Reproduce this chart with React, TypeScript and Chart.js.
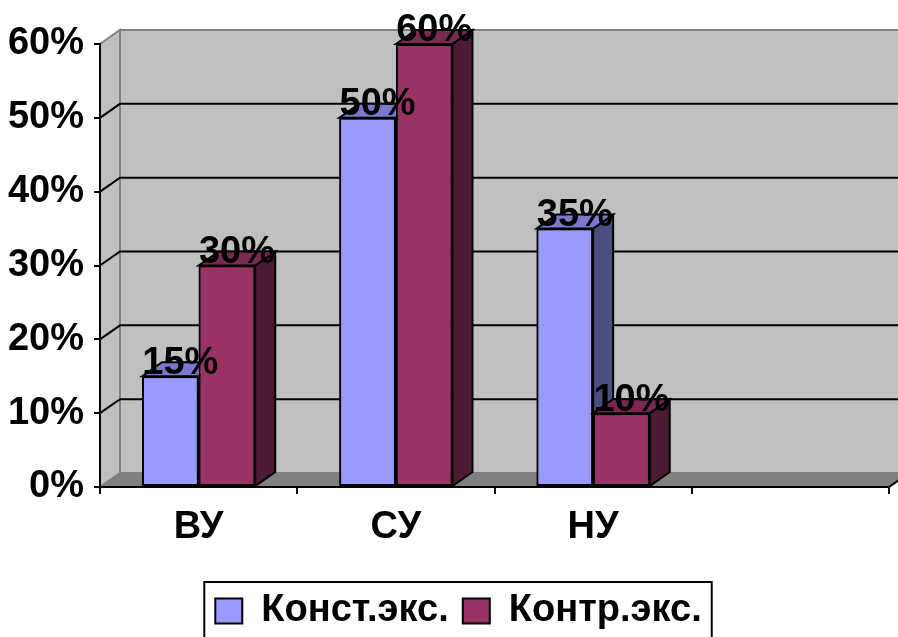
import React, { useEffect, useRef } from 'react';
import { Chart, registerables } from 'chart.js';

Chart.register(...registerables);

const categories = ['ВУ', 'СУ', 'НУ', ''];
const konstValues: (number | null)[] = [15, 50, 35, null];
const kontrValues: (number | null)[] = [30, 60, 10, null];
const seriesNames = ['Конст.экс.', 'Контр.экс.'];
const yMin = 0;
const yMax = 60;
const yStep = 10;

const FONT = "'Liberation Sans', Arial, sans-serif";
const FS = 38;
const DX = 20;
const DY = 14;

const frontColors = ['#9999FF', '#993366'];
const topColors = ['#7A7ACC', '#7A2952'];
const sideColors = ['#4D4D80', '#4D1A33'];

function poly(ctx: CanvasRenderingContext2D, pts: number[][], fill?: string, stroke?: string, lw = 1.5) {
  ctx.beginPath();
  ctx.moveTo(pts[0][0], pts[0][1]);
  for (let i = 1; i < pts.length; i++) ctx.lineTo(pts[i][0], pts[i][1]);
  ctx.closePath();
  if (fill) {
    ctx.fillStyle = fill;
    ctx.fill();
  }
  if (stroke) {
    ctx.strokeStyle = stroke;
    ctx.lineWidth = lw;
    ctx.stroke();
  }
}

const threeD = {
  id: 'threeD',
  afterLayout(chart: any) {
    if (chart.legend) chart.legend.left = 28;
  },
  beforeDraw(chart: any) {
    const { ctx, chartArea: ca, scales } = chart;
    const ys = scales.y;
    ctx.save();
    // back wall
    poly(ctx, [
      [ca.left + DX, ca.top - DY],
      [ca.right + DX, ca.top - DY],
      [ca.right + DX, ca.bottom - DY],
      [ca.left + DX, ca.bottom - DY],
    ], '#C0C0C0', '#808080', 2);
    // side wall
    poly(ctx, [
      [ca.left, ca.bottom],
      [ca.left + DX, ca.bottom - DY],
      [ca.left + DX, ca.top - DY],
      [ca.left, ca.top],
    ], '#C0C0C0', '#808080', 2);
    // floor
    poly(ctx, [
      [ca.left, ca.bottom],
      [ca.right, ca.bottom],
      [ca.right + DX, ca.bottom - DY],
      [ca.left + DX, ca.bottom - DY],
    ], '#808080', '#808080', 1.5);
    // grid lines
    ctx.strokeStyle = '#000';
    ctx.lineWidth = 2;
    for (let v = yMin + yStep; v < yMax; v += yStep) {
      const py = ys.getPixelForValue(v);
      ctx.beginPath();
      ctx.moveTo(ca.left, py);
      ctx.lineTo(ca.left + DX, py - DY);
      ctx.lineTo(ca.right + DX, py - DY);
      ctx.stroke();
    }
    // floor right edge
    ctx.beginPath();
    ctx.moveTo(ca.right, ca.bottom);
    ctx.lineTo(ca.right + DX, ca.bottom - DY);
    ctx.stroke();
    ctx.restore();
  },
  afterDatasetsDraw(chart: any) {
    const { ctx } = chart;
    const metas = chart.getSortedVisibleDatasetMetas();
    const n = chart.data.labels.length;
    const labels: { x: number; y: number; t: string }[] = [];
    ctx.save();
    for (let i = 0; i < n; i++) {
      metas.forEach((meta: any, d: number) => {
        const raw = chart.data.datasets[meta.index].data[i];
        if (raw === null || raw === undefined) return;
        const el = meta.data[i];
        const { x, y, base, width } = el.getProps(['x', 'y', 'base', 'width'], true);
        const L = x - width / 2;
        const R = x + width / 2;
        el.draw(ctx, chart.chartArea);
        poly(ctx, [[R, y], [R + DX, y - DY], [R + DX, base - DY], [R, base]], sideColors[d], '#000', 2);
        poly(ctx, [[L, y], [L + DX, y - DY], [R + DX, y - DY], [R, y]], topColors[d], '#000', 2);
        labels.push({ x: x + DX / 2, y: y - DY + 1, t: raw + '%' });
      });
    }
    ctx.fillStyle = '#000';
    ctx.font = `bold ${FS}px ${FONT}`;
    ctx.textAlign = 'center';
    ctx.textBaseline = 'middle';
    labels.forEach((l) => ctx.fillText(l.t, l.x, l.y));
    ctx.restore();
  },
  afterDraw(chart: any) {
    const lg = chart.legend;
    if (!lg || !lg.legendHitBoxes || !lg.legendHitBoxes.length) return;
    const hb = lg.legendHitBoxes;
    const first = hb[0];
    const last = hb[hb.length - 1];
    const { ctx } = chart;
    ctx.save();
    ctx.strokeStyle = '#000';
    ctx.lineWidth = 2;
    const left = first.left - 11;
    const right = last.left + last.width + 10;
    const top = 582;
    ctx.strokeRect(left, top, right - left, 100);
    ctx.restore();
  },
};

export default function App() {
  const ref = useRef<HTMLCanvasElement | null>(null);
  useEffect(() => {
    if (!ref.current) return;
    const chart = new Chart(ref.current, {
      type: 'bar',
      data: {
        labels: categories,
        datasets: [
          {
            label: seriesNames[0],
            data: konstValues,
            backgroundColor: frontColors[0],
            borderColor: '#000',
            borderWidth: 2,
            borderSkipped: false,
            categoryPercentage: 0.574,
            barPercentage: 1,
          },
          {
            label: seriesNames[1],
            data: kontrValues,
            backgroundColor: frontColors[1],
            borderColor: '#000',
            borderWidth: 2,
            borderSkipped: false,
            categoryPercentage: 0.574,
            barPercentage: 1,
          },
        ],
      },
      options: {
        responsive: false,
        maintainAspectRatio: false,
        animation: false,
        devicePixelRatio: 1,
        layout: { padding: { left: 0, right: 9, top: 44, bottom: -3 } },
        plugins: {
          tooltip: { enabled: false },
          legend: {
            position: 'bottom',
            labels: {
              color: '#000',
              font: { family: FONT, size: FS, weight: 'bold' },
              boxWidth: 27,
              boxHeight: 25,
              padding: 14,
            },
          },
        },
        scales: {
          x: {
            afterFit: (s: any) => {
              s.height = 91;
            },
            grid: { drawOnChartArea: false, drawTicks: true, tickLength: 7, color: '#000', lineWidth: 2 },
            border: { display: true, color: '#000', width: 2 },
            ticks: {
              color: '#000',
              font: { family: FONT, size: FS, weight: 'bold' },
              padding: 11,
              maxRotation: 0,
              autoSkip: false,
            },
          },
          y: {
            min: yMin,
            max: yMax,
            afterFit: (s: any) => {
              s.width = 100;
            },
            grid: { drawOnChartArea: false, drawTicks: true, tickLength: 6, color: '#000', lineWidth: 2 },
            border: { display: true, color: '#000', width: 2 },
            ticks: {
              stepSize: yStep,
              color: '#000',
              font: { family: FONT, size: FS, weight: 'bold' },
              padding: 10,
              callback: (v: any) => v + '%',
            },
          },
        },
      },
      plugins: [threeD],
    } as any);
    return () => chart.destroy();
  }, []);
  return (
    <div style={{ position: 'fixed', left: 0, top: 0, width: 898, height: 637, background: '#fff' }}>
      <canvas ref={ref} width={898} height={637} style={{ display: 'block' }} />
    </div>
  );
}
